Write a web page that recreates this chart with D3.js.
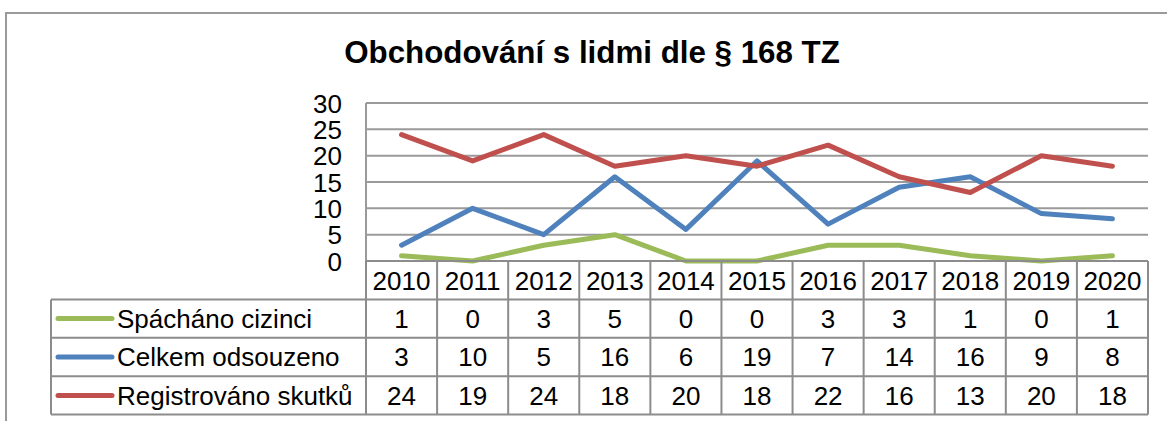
<!DOCTYPE html>
<html><head><meta charset="utf-8">
<script src="https://cdn.jsdelivr.net/npm/d3@7"></script>
<style>
html,body{margin:0;padding:0;background:#fff;}
svg{display:block;font-family:"Liberation Sans",Arial,Helvetica,sans-serif;}
</style></head>
<body>
<script>
const title = "Obchodování s lidmi dle § 168 TZ";
const years = ["2010","2011","2012","2013","2014","2015","2016","2017","2018","2019","2020"];
const seriesNames = ["Spácháno cizinci","Celkem odsouzeno","Registrováno skutků"];
const seriesColors = ["#9BBB59","#4F81BD","#C0504D"];
const spachanoCizinci = [1,0,3,5,0,0,3,3,1,0,1];
const celkemOdsouzeno = [3,10,5,16,6,19,7,14,16,9,8];
const registrovanoSkutku = [24,19,24,18,20,18,22,16,13,20,18];
const yTicks = [0,5,10,15,20,25,30];

(function(){
const series = [spachanoCizinci, celkemOdsouzeno, registrovanoSkutku];

const W = 1167, H = 421;
const svg = d3.select("body").append("svg").attr("width", W).attr("height", H);

svg.append("rect").attr("x",6).attr("y",13).attr("width",1200).attr("height",500)
  .attr("fill","none").attr("stroke","#9a9a9a").attr("stroke-width",2);

svg.append("text").attr("x",592).attr("y",62.5).attr("text-anchor","middle")
  .attr("font-size",31.3).attr("font-weight","bold").attr("fill","#000").text(title);

const pLeft = 366, pRight = 1148, pTop = 103, pBottom = 261;
const x = d3.scaleBand().domain(years).range([pLeft, pRight]);
const y = d3.scaleLinear().domain([0,30]).range([pBottom, pTop]);

const gridColor = "#9a9a9a";
svg.append("g").selectAll("line").data(yTicks.filter(d=>d>0)).join("line")
  .attr("x1",pLeft).attr("x2",pRight).attr("y1",d=>y(d)).attr("y2",d=>y(d))
  .attr("stroke",gridColor).attr("stroke-width",2);

const yAxis = d3.axisLeft(y).tickValues(yTicks).tickSize(0).tickPadding(24);
const gy = svg.append("g").attr("transform",`translate(${pLeft},0)`).call(yAxis);
gy.select(".domain").remove();
gy.selectAll("text").attr("font-size",26).attr("font-family","'Liberation Sans',Arial,sans-serif").attr("fill","#000").attr("dy","0.35em");
svg.append("line").attr("x1",pLeft).attr("x2",pLeft).attr("y1",pTop).attr("y2",pBottom)
  .attr("stroke",gridColor).attr("stroke-width",2);

const line = d3.line().x((d,i)=>x(years[i]) + x.bandwidth()/2).y(d=>y(d));
series.forEach((s,k)=>{
  svg.append("path").datum(s).attr("d",line).attr("fill","none")
    .attr("stroke",seriesColors[k]).attr("stroke-width",5)
    .attr("stroke-linejoin","round").attr("stroke-linecap","round");
});

const rowH = 38.4;
const legLeft = 51;
const tableBottom = pBottom + rowH*4;
const tcol = "#8c8c8c";
const fs = 26;
const tg = svg.append("g");
[0,1,2,3,4].forEach(r=>{
  const yy = pBottom + r*rowH;
  tg.append("line").attr("x1", r===0 ? pLeft : legLeft).attr("x2", pRight)
    .attr("y1",yy).attr("y2",yy).attr("stroke",tcol).attr("stroke-width",2);
});
years.forEach((yr,i)=>{
  tg.append("line").attr("x1",x(yr)).attr("x2",x(yr)).attr("y1",pBottom).attr("y2",tableBottom)
    .attr("stroke",tcol).attr("stroke-width",2);
});
tg.append("line").attr("x1",pRight).attr("x2",pRight).attr("y1",pBottom).attr("y2",tableBottom)
  .attr("stroke",tcol).attr("stroke-width",2);
tg.append("line").attr("x1",legLeft).attr("x2",legLeft).attr("y1",pBottom+rowH).attr("y2",tableBottom)
  .attr("stroke",tcol).attr("stroke-width",2);

tg.selectAll("text.yr").data(years).join("text").attr("class","yr")
  .attr("x",d=>x(d)+x.bandwidth()/2).attr("y",pBottom+rowH/2).attr("dy","0.36em")
  .attr("text-anchor","middle").attr("font-size",fs).text(d=>d);

series.forEach((s,k)=>{
  const cy = pBottom + rowH*(k+1) + rowH/2;
  tg.append("line").attr("x1",58).attr("x2",112).attr("y1",cy).attr("y2",cy)
    .attr("stroke",seriesColors[k]).attr("stroke-width",5).attr("stroke-linecap","round");
  tg.append("text").attr("x",117).attr("y",cy).attr("dy","0.36em").attr("font-size",fs).text(seriesNames[k]);
  tg.selectAll(null).data(s).join("text")
    .attr("x",(d,i)=>x(years[i])+x.bandwidth()/2).attr("y",cy).attr("dy","0.36em")
    .attr("text-anchor","middle").attr("font-size",fs).text(d=>d);
});
})();
</script>
</body></html>
